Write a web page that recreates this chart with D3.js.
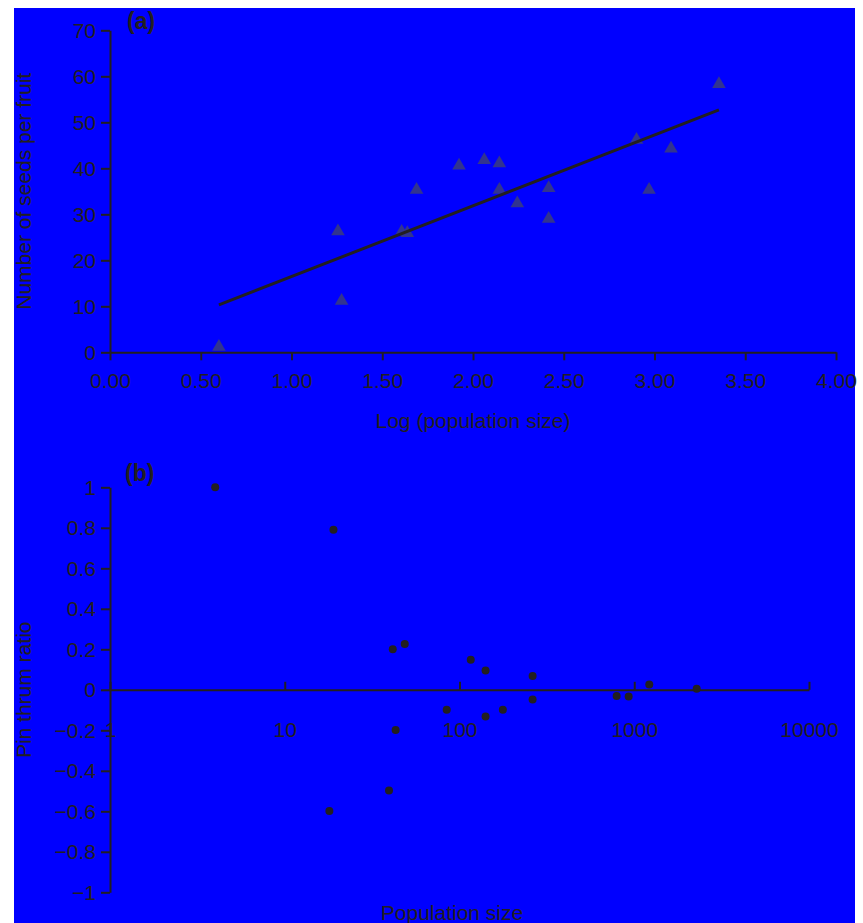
<!DOCTYPE html>
<html>
<head>
<meta charset="utf-8">
<script src="https://cdn.jsdelivr.net/npm/d3@7"></script>
<style>
  html, body { margin: 0; padding: 0; background: #ffffff; }
  svg { display: block; }
  text { font-family: "Liberation Sans", Arial, Helvetica, sans-serif; fill: #231f20; }
</style>
</head>
<body>
<svg id="chart" width="863" height="923"></svg>
<script>
// ---------- DATA ----------
// Panel (a): log(population size) vs number of seeds per fruit
const logPopSize = [0.60, 1.256, 1.276, 1.607, 1.638, 1.689, 1.923, 2.062, 2.145, 2.145, 2.244, 2.417, 2.417, 2.901, 2.970, 3.091, 3.355];
const seedsPerFruit = [1.2, 26.3, 11.2, 26.2, 25.9, 35.3, 40.6, 41.8, 41.1, 35.3, 32.4, 35.7, 29.0, 46.2, 35.3, 44.3, 58.3];
// fitted regression line (seeds = intercept + slope * logsize)
const fitSlope = 15.39;
const fitIntercept = 1.07;
const xTicksA = [0, 0.5, 1, 1.5, 2, 2.5, 3, 3.5, 4];
const yTicksA = [0, 10, 20, 30, 40, 50, 60, 70];

// Panel (b): population size vs pin/thrum ratio
const popSize = [4, 19, 41.5, 48.6, 43.1, 18.0, 39.5, 116, 141, 262, 84.5, 141, 177, 262, 793, 929, 1219, 2277];
const pinThrum = [1.0, 0.79, 0.20, 0.226, -0.198, -0.598, -0.497, 0.148, 0.095, 0.068, -0.099, -0.132, -0.099, -0.048, -0.030, -0.033, 0.026, 0.005];
const xTicksB = [1, 10, 100, 1000, 10000];
const yTicksB = [-1, -0.8, -0.6, -0.4, -0.2, 0, 0.2, 0.4, 0.6, 0.8, 1];

// ---------- LAYOUT ----------
const INK = "#231f20";
const FONT = 21;
const svg = d3.select("#chart");

svg.append("rect")
  .attr("x", 14).attr("y", 8)
  .attr("width", 841).attr("height", 915)
  .attr("fill", "#0000ff");

function styleAxis(g) {
  g.selectAll("path.domain").attr("stroke", INK).attr("stroke-width", 2);
  g.selectAll(".tick line").attr("stroke", INK).attr("stroke-width", 2);
  g.selectAll(".tick text")
    .attr("font-size", FONT)
    .attr("font-family", '"Liberation Sans", Arial, Helvetica, sans-serif')
    .attr("fill", INK);
}

// ---------- PANEL (a) ----------
const xA = d3.scaleLinear().domain([0, 4]).range([110, 836]);
const yA = d3.scaleLinear().domain([0, 70]).range([352.3, 30.3]);

const gA = svg.append("g");

gA.append("g")
  .attr("transform", `translate(0,${yA(0)})`)
  .call(d3.axisBottom(xA).tickValues(xTicksA).tickFormat(d3.format(".2f"))
    .tickSize(8).tickSizeOuter(0).tickPadding(13))
  .call(styleAxis);

gA.append("g")
  .attr("transform", `translate(${xA(0)},0)`)
  .call(d3.axisLeft(yA).tickValues(yTicksA).tickFormat(d3.format("d"))
    .tickSize(9).tickSizeOuter(0).tickPadding(5))
  .call(styleAxis);

const tri = d3.symbol().type(d3.symbolTriangle).size(80);
gA.append("g").selectAll("path")
  .data(logPopSize.map((x, i) => ({x, y: seedsPerFruit[i]})))
  .join("path")
  .attr("d", tri)
  .attr("transform", d => `translate(${xA(d.x)},${yA(d.y)})`)
  .attr("fill", "#32348f");

const xr = d3.extent(logPopSize);
gA.append("line")
  .attr("x1", xA(xr[0])).attr("y1", yA(fitIntercept + fitSlope * xr[0]))
  .attr("x2", xA(xr[1])).attr("y2", yA(fitIntercept + fitSlope * xr[1]))
  .attr("stroke", INK).attr("stroke-width", 3);

gA.append("text")
  .attr("x", 127).attr("y", 29)
  .attr("font-size", 23).attr("font-weight", "bold")
  .text("(a)");

gA.append("text")
  .attr("x", (xA.range()[0] + xA.range()[1]) / 2).attr("y", 428)
  .attr("text-anchor", "middle").attr("font-size", FONT)
  .text("Log (population size)");

gA.append("text")
  .attr("transform", `translate(31,${(yA.range()[0] + yA.range()[1]) / 2}) rotate(-90)`)
  .attr("text-anchor", "middle").attr("font-size", FONT)
  .text("Number of seeds per fruit");

// ---------- PANEL (b) ----------
const xB = d3.scaleLog().domain([1, 10000]).range([110, 809]);
const yB = d3.scaleLinear().domain([-1, 1]).range([892.3, 487.3]);

const gB = svg.append("g");

gB.append("g")
  .attr("transform", `translate(0,${yB(0)})`)
  .call(d3.axisBottom(xB).tickValues(xTicksB).tickFormat(d3.format("d"))
    .tickSize(-8).tickSizeOuter(0).tickPadding(32))
  .call(styleAxis);

gB.append("g")
  .attr("transform", `translate(${xB(1)},0)`)
  .call(d3.axisLeft(yB).tickValues(yTicksB).tickFormat(d3.format("~g"))
    .tickSize(9).tickSizeOuter(0).tickPadding(5))
  .call(styleAxis);

gB.append("g").selectAll("circle")
  .data(popSize.map((x, i) => ({x, y: pinThrum[i]})))
  .join("circle")
  .attr("cx", d => xB(d.x))
  .attr("cy", d => yB(d.y))
  .attr("r", 4)
  .attr("fill", INK);

gB.append("text")
  .attr("x", 125).attr("y", 481)
  .attr("font-size", 23).attr("font-weight", "bold")
  .text("(b)");

gB.append("text")
  .attr("x", 452).attr("y", 920)
  .attr("text-anchor", "middle").attr("font-size", FONT)
  .text("Population size");

gB.append("text")
  .attr("transform", `translate(31,${(yB.range()[0] + yB.range()[1]) / 2}) rotate(-90)`)
  .attr("text-anchor", "middle").attr("font-size", FONT)
  .text("Pin thrum ratio");
</script>
</body>
</html>
